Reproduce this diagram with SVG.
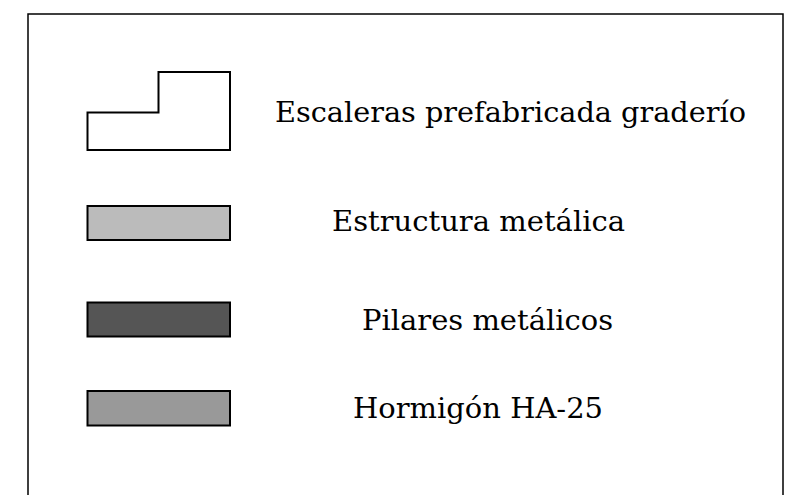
<svg xmlns="http://www.w3.org/2000/svg" width="789" height="495" viewBox="0 0 789 495">
<style>
.sw{stroke:#000;stroke-width:2}
.t{font-family:"DejaVu Serif","Liberation Serif",serif;font-size:27px;fill:#000}
</style>
<rect width="789" height="495" fill="#fff"/>
<path d="M28,495 V14 H783 V495" fill="none" stroke="#000" stroke-width="1.5"/>
<g id="escaleras">
<path class="sw" d="M87.5,150 V112.5 H158.5 V72 H230 V150 Z" fill="#fff"/>
<text class="t" x="275" y="122" textLength="471" lengthAdjust="spacingAndGlyphs">Escaleras prefabricada graderío</text>
</g>
<g id="estructura">
<rect class="sw" x="87.5" y="206" width="142.5" height="34" fill="#bbbbbb"/>
<text class="t" x="332" y="231" textLength="293" lengthAdjust="spacingAndGlyphs">Estructura metálica</text>
</g>
<g id="pilares">
<rect class="sw" x="87.5" y="302.5" width="142.5" height="34" fill="#555555"/>
<text class="t" x="362" y="330" textLength="251" lengthAdjust="spacingAndGlyphs">Pilares metálicos</text>
</g>
<g id="hormigon">
<rect class="sw" x="87.5" y="391" width="142.5" height="34.5" fill="#999999"/>
<text class="t" x="353" y="418" textLength="250" lengthAdjust="spacingAndGlyphs">Hormigón HA-25</text>
</g>
<g id="connectors"/>
</svg>
